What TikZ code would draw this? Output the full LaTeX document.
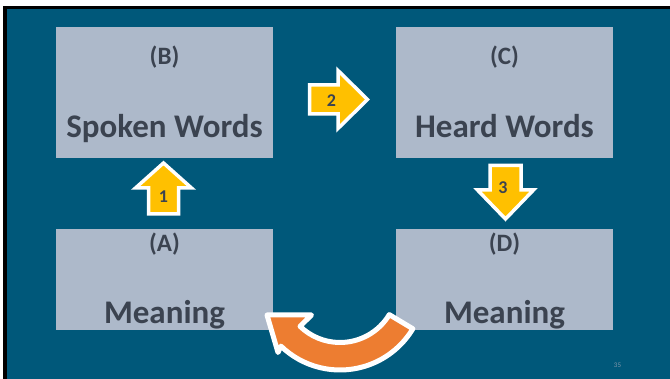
\documentclass[tikz,border=0pt]{standalone}
\usepackage{fontspec}
\setmainfont{Carlito}
\usetikzlibrary{calc}
\definecolor{bg}{HTML}{00587A}
\definecolor{boxc}{HTML}{ADB9CA}
\definecolor{txt}{HTML}{3B4350}
\definecolor{yel}{HTML}{FFC000}
\definecolor{org}{HTML}{ED7D31}
\definecolor{pgnum}{HTML}{7F97AA}
\begin{document}
\begin{tikzpicture}[x=1pt,y=-1pt,
  box/.style={fill=boxc,draw=none,inner sep=0pt,minimum width=217pt},
  small/.style={text=txt,inner sep=0pt,anchor=base,font=\fontsize{25}{30}\selectfont\bfseries},
  big/.style={text=txt,inner sep=0pt,anchor=base,font=\fontsize{33}{40}\selectfont\bfseries},
  num/.style={text=txt,inner sep=0pt,font=\fontsize{18}{22}\selectfont\bfseries},
  yarrow/.style={fill=yel,draw=white,line width=3.5pt,line join=miter},
  oarrow/.style={fill=org,draw=white,line width=5pt,line join=round}]
\useasboundingbox (0,0) rectangle (670,379);
\fill[white] (0,0) rectangle (670,379);
\fill[black] (3.3,6) rectangle (670,379);
\fill[bg] (7.3,9.3) rectangle (670,379);
% boxes
\node[box,minimum height=131pt] (B) at (164.5,92.5) {};
\node[box,minimum height=131pt] (C) at (504.5,92.5) {};
\node[box,minimum height=101pt] (A) at (164.5,279.5) {};
\node[box,minimum height=101pt] (D) at (504.5,279.5) {};
% texts
\node[small] (Bl) at (164.5,64.3) {(B)};
\node[big] (Bw) at (164.5,138) {Spoken Words};
\node[small] (Cl) at (504.5,64.3) {(C)};
\node[big] (Cw) at (504.5,138) {Heard Words};
\node[small] (Al) at (164.5,251.5) {(A)};
\node[big] (Aw) at (164.5,323.5) {Meaning};
\node[small] (Dl) at (504.5,251.5) {(D)};
\node[big] (Dw) at (504.5,323.5) {Meaning};
% arrow 1 (up)
\draw[yarrow] (148.5,214) -- (148.5,188) -- (135.5,188) -- (163.5,163) -- (191.5,188) -- (178.5,188) -- (178.5,214) -- cycle;
\node[num] (n1) at (163.5,197) {1};
% arrow 2 (right)
\draw[yarrow] (309.5,85) -- (338,85) -- (338,70.5) -- (367.5,99.5) -- (338,128.5) -- (338,114) -- (309.5,114) -- cycle;
\node[num] (n2) at (331.5,100.5) {2};
% arrow 3 (down)
\draw[yarrow] (490,165.5) -- (521,165.5) -- (521,190) -- (533.5,190) -- (505.5,219) -- (477.5,190) -- (490,190) -- cycle;
\node[num] (n3) at (503,188) {3};
% curved arrow
\coordinate (c) at (340,285);
\draw[oarrow] ($(c)+(31:57.5)$) arc[start angle=31,end angle=134,radius=57.5]
  -- (311.5,315) -- (267,315) -- (278,352.5) -- ($(c)+(134:85)$)
  arc[start angle=134,end angle=31,radius=85] -- cycle;
% page number
\node[font=\fontsize{7}{8}\selectfont,text=pgnum,inner sep=0pt] (pg) at (617.5,365) {35};
\end{tikzpicture}
\end{document}
